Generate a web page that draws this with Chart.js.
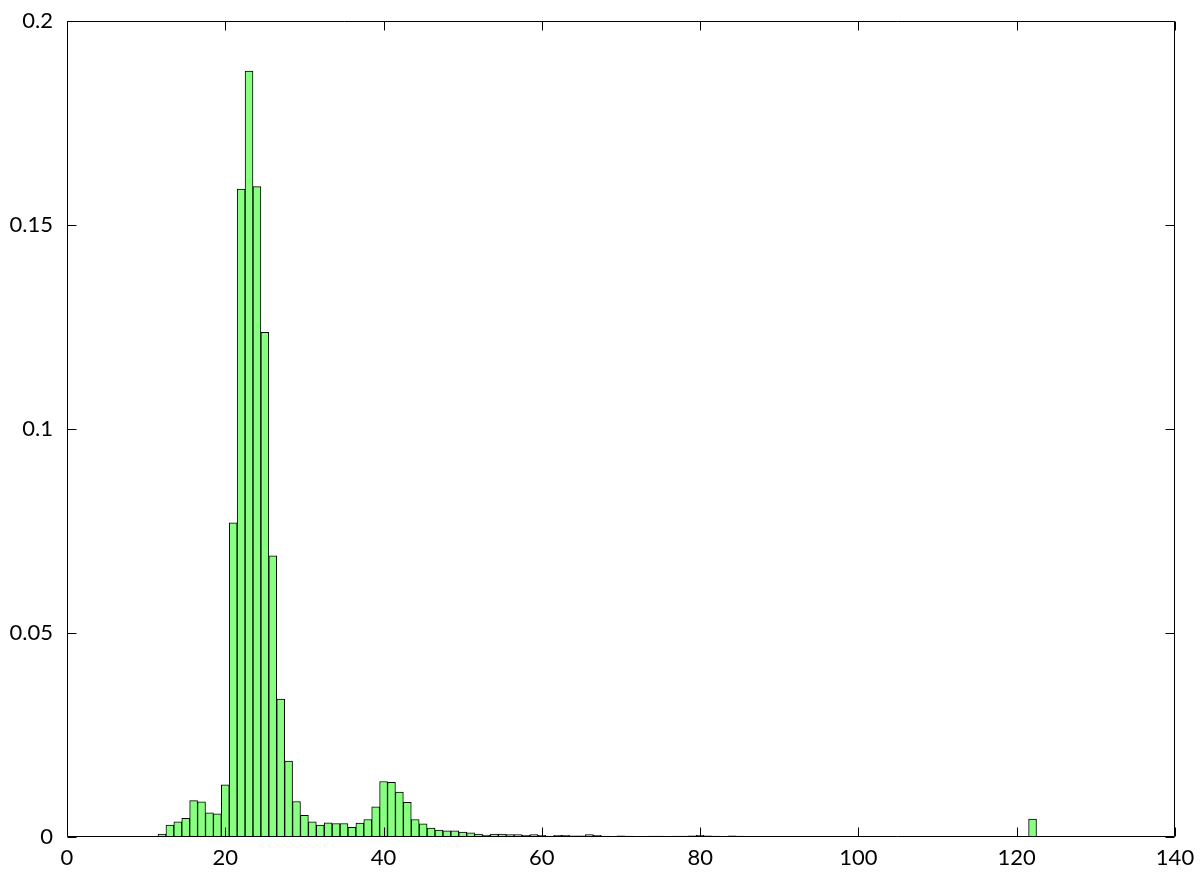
<!DOCTYPE html>
<html>
<head>
<meta charset="utf-8">
<script src="https://cdn.jsdelivr.net/npm/chart.js@4/dist/chart.umd.min.js"></script>
<style>
  html, body { margin: 0; padding: 0; background: #fff; }
  #wrap { width: 1204px; height: 872px; }
</style>
</head>
<body>
<div id="wrap"><canvas id="c" width="1204" height="872"></canvas></div>
<script>
// Histogram bins (bin centres) and relative frequency in each bin
const bins = [
  12, 13, 14, 15, 16, 17, 18, 19, 20, 21,
  22, 23, 24, 25, 26, 27, 28, 29, 30, 31,
  32, 33, 34, 35, 36, 37, 38, 39, 40, 41,
  42, 43, 44, 45, 46, 47, 48, 49, 50, 51,
  52, 53, 54, 55, 56, 57, 58, 59, 60, 61,
  62, 63, 64, 65, 66, 67, 68, 69, 70, 71,
  72, 73, 74, 75, 76, 77, 78, 79, 80, 81,
  82, 83, 84, 85, 122
];
const freq = [
  0.0007, 0.0029, 0.0037, 0.0046, 0.0089, 0.0086, 0.0059, 0.0057, 0.0128, 0.0770,
  0.1588, 0.1877, 0.1594, 0.1237, 0.0689, 0.0338, 0.0186, 0.0087, 0.0053, 0.0037,
  0.0029, 0.0035, 0.0033, 0.0033, 0.0024, 0.0034, 0.0043, 0.0074, 0.0136, 0.0134,
  0.0110, 0.0085, 0.0043, 0.0032, 0.0022, 0.0017, 0.0015, 0.0015, 0.0012, 0.0010,
  0.0007, 0.0005, 0.0007, 0.0007, 0.0006, 0.0006, 0.0004, 0.0006, 0.0004, 0.0002,
  0.0004, 0.0004, 0.0003, 0.0003, 0.0006, 0.0004, 0.0002, 0.0001, 0.0003, 0.0002,
  0.0001, 0.0001, 0.0002, 0.0002, 0.0001, 0.0002, 0.0002, 0.0003, 0.0004, 0.0003,
  0.0002, 0.0001, 0.0003, 0.0002, 0.0044
];
const xTicks = [0, 20, 40, 60, 80, 100, 120, 140];
const yTicks = [0, 0.05, 0.1, 0.15, 0.2];

const points = bins.map((b, i) => ({ x: b, y: freq[i] }));

// Frame around the plot area with inward-pointing ticks on all four sides
const framePlugin = {
  id: 'frame',
  afterDatasetsDraw(chart) {
    const { ctx, chartArea: a, scales } = chart;
    const L = Math.round(a.left) + 0.5, R = Math.round(a.right) - 0.5;
    const T = Math.round(a.top) + 0.5, B = Math.round(a.bottom) - 0.5;
    const len = 9;
    ctx.save();
    ctx.strokeStyle = '#000';
    ctx.lineWidth = 1;
    ctx.beginPath();
    ctx.rect(L, T, R - L, B - T);
    scales.x.ticks.forEach(t => {
      const px = Math.round(scales.x.getPixelForValue(t.value)) + 0.5;
      ctx.moveTo(px, B); ctx.lineTo(px, B - len);
      ctx.moveTo(px, T); ctx.lineTo(px, T + len);
    });
    scales.y.ticks.forEach(t => {
      const py = Math.round(scales.y.getPixelForValue(t.value)) + 0.5;
      ctx.moveTo(L, py); ctx.lineTo(L + len, py);
      ctx.moveTo(R, py); ctx.lineTo(R - len, py);
    });
    ctx.stroke();
    ctx.restore();
  }
};

const tickFont = { family: 'Lato, "DejaVu Sans", sans-serif', size: 22 };

new Chart(document.getElementById('c'), {
  type: 'bar',
  data: {
    datasets: [{
      data: points,
      backgroundColor: '#88ff80',
      borderColor: '#000',
      borderWidth: 1,
      borderSkipped: false,
      barPercentage: 1,
      categoryPercentage: 1,
      grouped: false
    }]
  },
  options: {
    responsive: false,
    animation: false,
    events: [],
    layout: { padding: { top: 21, right: 29, left: 0, bottom: 0 } },
    plugins: { legend: { display: false }, tooltip: { enabled: false } },
    scales: {
      x: {
        type: 'linear',
        min: 0, max: 140,
        offset: false,
        afterBuildTicks: s => { s.ticks = xTicks.map(v => ({ value: v })); },
        afterFit: s => { s.height = 35; s.paddingLeft = 0; s.paddingRight = 0; },
        grid: { display: false, drawTicks: false },
        border: { display: false },
        ticks: { color: '#000', font: tickFont, padding: 8, maxRotation: 0, autoSkip: false }
      },
      y: {
        min: 0, max: 0.2,
        afterBuildTicks: s => { s.ticks = yTicks.map(v => ({ value: v })); },
        afterFit: s => { s.width = 67; s.paddingTop = 0; s.paddingBottom = 0; },
        grid: { display: false, drawTicks: false },
        border: { display: false },
        ticks: {
          color: '#000', font: tickFont, padding: 14,
          callback: v => String(Number(v.toFixed(4)))
        }
      }
    }
  },
  plugins: [framePlugin]
});
</script>
</body>
</html>
